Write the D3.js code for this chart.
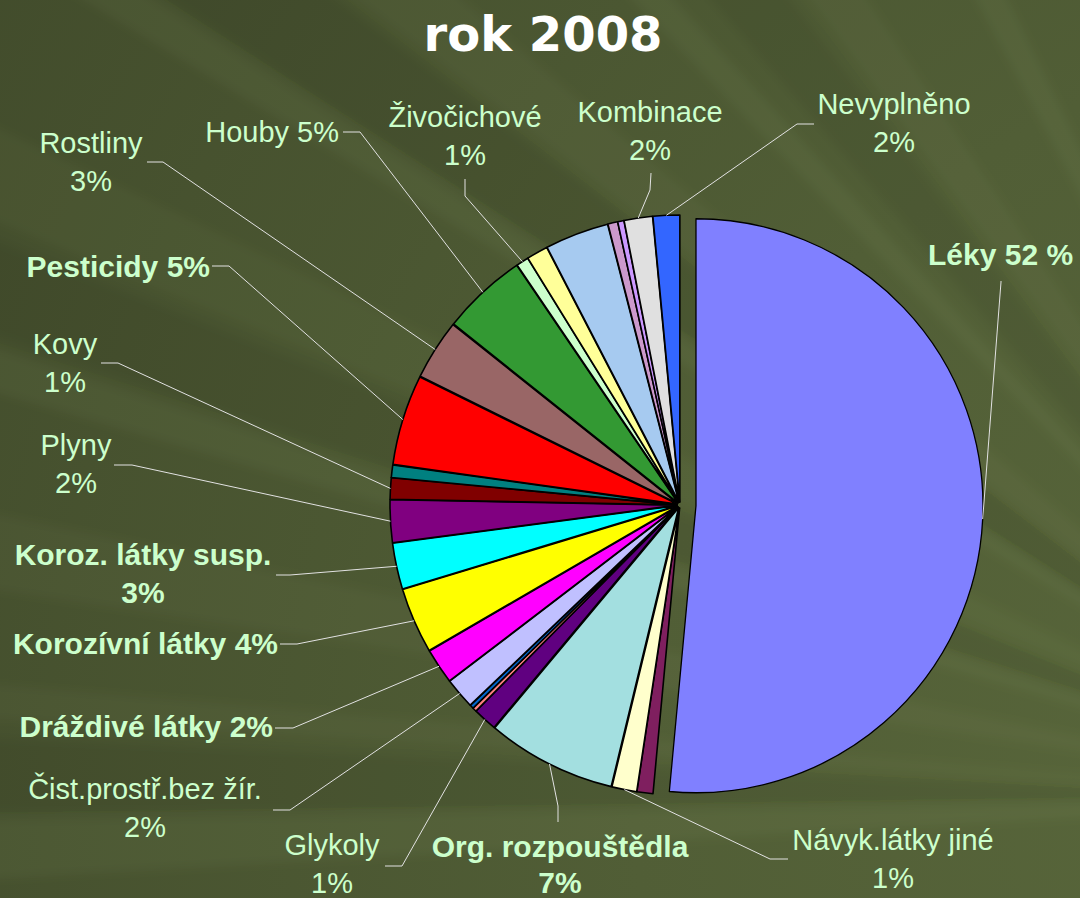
<!DOCTYPE html>
<html>
<head>
<meta charset="utf-8">
<script src="https://cdn.jsdelivr.net/npm/d3@7"></script>
<style>
  html, body { margin: 0; padding: 0; background: #4b5731; }
  svg { display: block; }
  .pie-label { font-family: "Liberation Sans", Arial, sans-serif; font-size: 29px; fill: #ccffcc; }
  .pie-label--bold { font-weight: bold; font-size: 30px; }
  .chart-title { font-family: "DejaVu Sans", Verdana, sans-serif; font-weight: bold; font-size: 48px; fill: #ffffff; }
  .leader { fill: none; stroke: #e2e2e2; stroke-width: 1; }
</style>
</head>
<body>
<div id="chart"></div>
<script>
const WIDTH = 1080;
const HEIGHT = 898;
const CENTER = { x: 680, y: 505 };
const RADIUS = 287;

// categories in pie order (clockwise from 12 o'clock); unlabeled slices have no text in the source
const categories = [
  "Léky", "", "Návyk.látky jiné", "Org. rozpouštědla", "Glykoly", "", "",
  "Čist.prostř.bez žír.", "Dráždivé látky", "Korozívní látky", "Koroz. látky susp.",
  "Plyny", "Kovy", "", "Pesticidy", "Rostliny", "Houby", "Živočichové", "", "", "", "",
  "Kombinace", "Nevyplněno",
];

// share of cases, %
const values = [
  51.5, 0.9, 1.4, 7.3, 1.35, 0.22, 0.22,
  1.75, 2.0, 3.7, 2.6,
  2.4, 1.2, 0.7, 5.1, 3.4, 4.8, 0.7, 1.2, 3.6, 0.55, 0.35,
  1.6, 1.5,
];

// percent text as printed on the chart
const percentLabels = [
  "52 %", null, "1%", "7%", "1%", null, null,
  "2%", "2%", "4%", "3%",
  "2%", "1%", null, "5%", "3%", "5%", "1%", null, null, null, null,
  "2%", "2%",
];

const sliceColors = [
  "#8080ff", "#7f1f5f", "#ffffcc", "#a3dfe0", "#600080", "#ff8080", "#0066cc",
  "#c0c0ff", "#ff00ff", "#ffff00", "#00ffff",
  "#800080", "#800000", "#008080", "#ff0000", "#996666", "#339933", "#ccffcc",
  "#ffff99", "#a6caf0", "#cc99cc", "#cc99ff",
  "#e0e0e0", "#3366ff",
];

// label placement: index into data, text position, first-line layout, leader stub
const LABEL_LAYOUT = [
  { i: 0,  x: 928, y: 265, anchor: "start",  bold: true,  oneLine: true,  stub: [[1001, 281], [1001, 282]] },
  { i: 2,  x: 893, y: 850, anchor: "middle", bold: false, oneLine: false, stub: [[788, 859], [770, 859]] },
  { i: 3,  x: 560, y: 857, anchor: "middle", bold: true,  oneLine: false, stub: [[558, 822], [558, 806]] },
  { i: 4,  x: 332, y: 855, anchor: "middle", bold: false, oneLine: false, stub: [[385, 866], [402, 866]] },
  { i: 7,  x: 145, y: 799, anchor: "middle", bold: false, oneLine: false, stub: [[273, 810], [290, 810]] },
  { i: 8,  x: 273, y: 737, anchor: "end",    bold: true,  oneLine: true,  stub: [[275, 728], [293, 728]] },
  { i: 9,  x: 278, y: 654, anchor: "end",    bold: true,  oneLine: true,  stub: [[280, 644], [297, 644]] },
  { i: 10, x: 143, y: 565, anchor: "middle", bold: true,  oneLine: false, stub: [[276, 575], [290, 575]] },
  { i: 11, x: 76,  y: 455, anchor: "middle", bold: false, oneLine: false, stub: [[114, 465], [132, 465]] },
  { i: 12, x: 65,  y: 354, anchor: "middle", bold: false, oneLine: false, stub: [[101, 363], [118, 363]] },
  { i: 14, x: 210, y: 277, anchor: "end",    bold: true,  oneLine: true,  stub: [[212, 266], [229, 266]] },
  { i: 15, x: 91,  y: 153, anchor: "middle", bold: false, oneLine: false, stub: [[147, 162], [163, 162]] },
  { i: 16, x: 339, y: 142, anchor: "end",    bold: false, oneLine: true,  stub: [[343, 132], [360, 132]] },
  { i: 17, x: 465, y: 127, anchor: "middle", bold: false, oneLine: false, stub: [[465, 179], [465, 196]] },
  { i: 22, x: 650, y: 122, anchor: "middle", bold: false, oneLine: false, stub: [[651, 173], [650, 190]] },
  { i: 23, x: 894, y: 114, anchor: "middle", bold: false, oneLine: false, stub: [[814, 124], [797, 124]] },
];

// background sunburst rays (direction in degrees from a focal point off the bottom-right)
const RAY_FOCUS = { x: 1400, y: 800 };
const RAYS = [
  { a: 178, w: 2.4, o: 0.05 }, { a: 184, w: 1.4, o: 0.04 }, { a: 190, w: 3.0, o: 0.04 },
  { a: 197, w: 1.6, o: 0.05 }, { a: 204, w: 3.2, o: 0.035 }, { a: 212, w: 1.4, o: 0.05 },
  { a: 219, w: 3.0, o: 0.04 }, { a: 227, w: 1.6, o: 0.05 }, { a: 235, w: 2.8, o: 0.04 },
  { a: 243, w: 1.8, o: 0.05 },
];
const DARK_RAYS = [
  { a: 181, w: 3.0, o: 0.06 }, { a: 200, w: 3.5, o: 0.06 }, { a: 215, w: 4.0, o: 0.07 },
  { a: 231, w: 3.5, o: 0.06 },
];

const LINE_HEIGHT = 38;
const EXPLODE_MAIN = 16;
const EXPLODE_OTHER = 3;

const svg = d3.select("#chart")
  .append("svg")
  .attr("width", WIDTH)
  .attr("height", HEIGHT)
  .attr("viewBox", `0 0 ${WIDTH} ${HEIGHT}`);

// —— Background ——
const defs = svg.append("defs");
const bgGrad = defs.append("radialGradient")
  .attr("id", "bg-grad")
  .attr("gradientUnits", "userSpaceOnUse")
  .attr("cx", RAY_FOCUS.x).attr("cy", RAY_FOCUS.y).attr("r", 1700);
bgGrad.append("stop").attr("offset", "0%").attr("stop-color", "#5a683c");
bgGrad.append("stop").attr("offset", "45%").attr("stop-color", "#515e36");
bgGrad.append("stop").attr("offset", "100%").attr("stop-color", "#414b2b");

defs.append("filter")
  .attr("id", "soft")
  .attr("x", "-20%").attr("y", "-20%").attr("width", "140%").attr("height", "140%")
  .append("feGaussianBlur")
  .attr("stdDeviation", 5);

svg.append("rect")
  .attr("width", WIDTH)
  .attr("height", HEIGHT)
  .attr("fill", "url(#bg-grad)");

const rayLen = 2200;
function rayPath(d) {
  const a0 = (d.a - d.w / 2) * Math.PI / 180;
  const a1 = (d.a + d.w / 2) * Math.PI / 180;
  return `M${RAY_FOCUS.x},${RAY_FOCUS.y}` +
    `L${RAY_FOCUS.x + rayLen * Math.cos(a0)},${RAY_FOCUS.y + rayLen * Math.sin(a0)}` +
    `L${RAY_FOCUS.x + rayLen * Math.cos(a1)},${RAY_FOCUS.y + rayLen * Math.sin(a1)}Z`;
}

const raysG = svg.append("g").attr("class", "rays").attr("filter", "url(#soft)");

raysG.selectAll(".ray-dark")
  .data(DARK_RAYS)
  .join("path")
  .attr("class", "ray-dark")
  .attr("fill", "#1e2612")
  .attr("opacity", (d) => d.o)
  .attr("d", rayPath);

raysG.selectAll(".ray-light")
  .data(RAYS)
  .join("path")
  .attr("class", "ray-light")
  .attr("fill", "#c8d89a")
  .attr("opacity", (d) => d.o)
  .attr("d", rayPath);

// —— Title ——
svg.append("text")
  .attr("class", "chart-title")
  .attr("x", 543)
  .attr("y", 51)
  .attr("text-anchor", "middle")
  .text("rok 2008");

// —— Pie ——
const rows = categories.map((name, i) => ({
  name, value: values[i], pct: percentLabels[i], color: sliceColors[i], index: i,
}));

const pie = d3.pie()
  .sort(null)
  .value((d) => d.value)
  .startAngle(0)
  .endAngle(2 * Math.PI);

const arcs = pie(rows);

const arc = d3.arc().innerRadius(0).outerRadius(RADIUS);

function explodeOffset(d) {
  const mid = (d.startAngle + d.endAngle) / 2;
  const k = d.data.index === 0 ? EXPLODE_MAIN : EXPLODE_OTHER;
  return [k * Math.sin(mid), -k * Math.cos(mid)];
}

const pieG = svg.append("g")
  .attr("transform", `translate(${CENTER.x},${CENTER.y})`);

pieG.selectAll(".slice")
  .data(arcs)
  .join("path")
  .attr("class", "slice")
  .attr("transform", (d) => {
    const [ox, oy] = explodeOffset(d);
    return `translate(${ox},${oy})`;
  })
  .attr("fill", (d) => d.data.color)
  .attr("stroke", "#000")
  .attr("stroke-width", (d) => (d.data.index === 0 ? 1.3 : 1.6))
  .attr("stroke-linejoin", "round")
  .attr("d", arc);

// —— Leader lines ——
function sliceEdgePoint(d) {
  const mid = (d.startAngle + d.endAngle) / 2;
  const [ox, oy] = explodeOffset(d);
  return [
    CENTER.x + ox + RADIUS * Math.sin(mid),
    CENTER.y + oy - RADIUS * Math.cos(mid),
  ];
}

svg.append("g")
  .attr("class", "leaders")
  .selectAll("path")
  .data(LABEL_LAYOUT)
  .join("path")
  .attr("class", "leader")
  .attr("d", (l) => {
    const p = sliceEdgePoint(arcs[l.i]);
    return d3.line()([l.stub[0], l.stub[1], p]);
  });

// —— Labels ——
const labelG = svg.append("g").attr("class", "labels");

LABEL_LAYOUT.forEach((l) => {
  const row = rows[l.i];
  const lines = l.oneLine ? [`${row.name} ${row.pct}`] : [row.name, row.pct];
  const t = labelG.append("text")
    .attr("class", l.bold ? "pie-label pie-label--bold" : "pie-label")
    .attr("text-anchor", l.anchor);
  lines.forEach((line, k) => {
    t.append("tspan")
      .attr("x", l.x)
      .attr("y", Math.min(l.y + k * LINE_HEIGHT, 893))
      .text(line);
  });
});
</script>
</body>
</html>
